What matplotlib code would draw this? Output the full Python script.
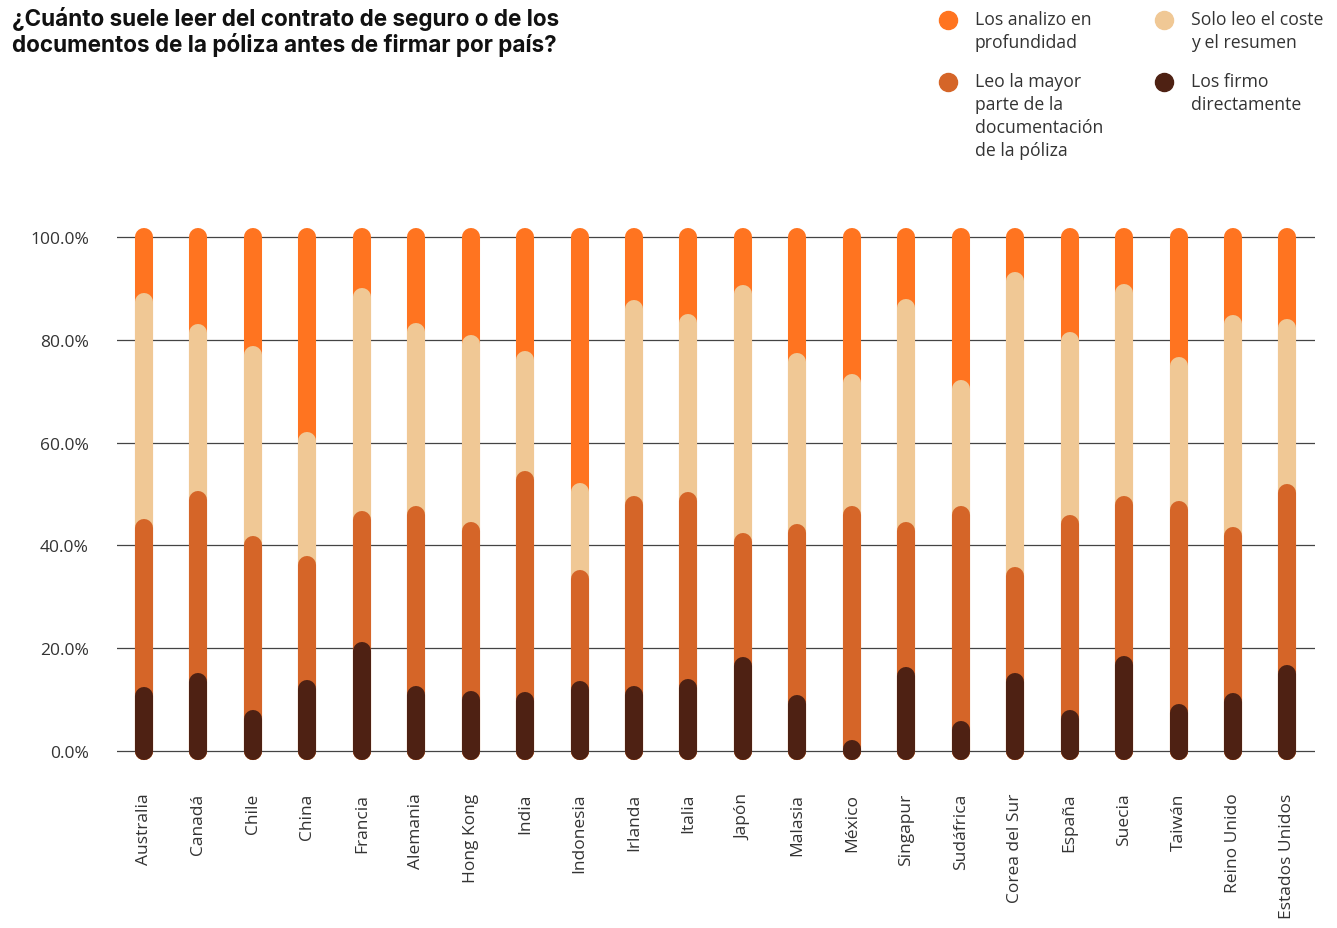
import matplotlib.pyplot as plt
from matplotlib.lines import Line2D
import numpy as np

paises = ["Australia", "Canadá", "Chile", "China", "Francia", "Alemania",
          "Hong Kong", "India", "Indonesia", "Irlanda", "Italia", "Japón",
          "Malasia", "México", "Singapur", "Sudáfrica", "Corea del Sur",
          "España", "Suecia", "Taiwán", "Reino Unido", "Estados Unidos"]

# porcentaje de encuestados por respuesta
firmo = [10.6, 13.4, 6.2, 12.0, 19.4, 10.9, 10.0, 9.8, 11.8, 10.9, 12.3,
         16.6, 9.1, 0.4, 14.6, 4.0, 13.4, 6.2, 16.7, 7.4, 9.5, 15.0]
mayor_parte = [32.7, 35.5, 33.9, 24.2, 25.5, 35.0, 32.8, 42.9, 21.6, 36.9, 36.3,
               24.1, 33.3, 45.5, 28.2, 41.9, 20.7, 38.0, 31.2, 39.5, 32.3, 35.1]
solo_coste = [44.1, 32.5, 36.9, 24.0, 43.5, 35.6, 36.4, 23.4, 16.9, 38.1, 34.7,
              48.2, 33.3, 25.6, 43.4, 24.6, 57.3, 35.5, 41.2, 27.9, 41.2, 32.1]
analizo = [12.6, 18.6, 23.0, 39.8, 11.6, 18.5, 20.8, 23.9, 49.7, 14.1, 16.7,
           11.1, 24.3, 28.5, 13.8, 29.5, 8.6, 20.3, 10.9, 25.2, 17.0, 17.8]

series = ["Los analizo en\nprofundidad",
          "Leo la mayor\nparte de la\ndocumentación\nde la póliza",
          "Solo leo el coste\ny el resumen",
          "Los firmo\ndirectamente"]
colores = ["#FF7420", "#D56528", "#F0C895", "#4E2113"]

fuente = "Open Sans"
gris = "#333333"

fig = plt.figure(figsize=(13.37, 9.29), dpi=100)
ax = fig.add_axes([0.0873, 0.174, 0.896, 0.5865])

x = np.arange(len(paises))
c1 = np.array(firmo)
c2 = c1 + np.array(mayor_parte)
c3 = c2 + np.array(solo_coste)
c4 = c3 + np.array(analizo)

# barras redondeadas: se pinta de la más alta a la más baja
for tope, col in [(c4, colores[0]), (c3, colores[2]), (c2, colores[1]), (c1, colores[3])]:
    ax.vlines(x, 0, tope, colors=col, linewidth=13, capstyle="round", zorder=3)

ax.set_xlim(-0.5, len(paises) - 0.5)
ax.set_ylim(-3, 103)
ax.set_yticks([0, 20, 40, 60, 80, 100])
ax.set_yticklabels([f"{v:.1f}%" for v in [0, 20, 40, 60, 80, 100]],
                   fontsize=12.5, color=gris, family=fuente)
ax.set_xticks(x)
ax.set_xticklabels(paises, rotation=90, fontsize=12.5, color=gris, family=fuente,
                   va="top", ha="center")
ax.tick_params(axis="y", length=0, pad=20)
ax.tick_params(axis="x", length=0, pad=19)
ax.grid(axis="y", color="#444444", linewidth=0.9, zorder=0)
for s in ax.spines.values():
    s.set_visible(False)

fig.text(0.009, 1 - 7 / 929,
         "¿Cuánto suele leer del contrato de seguro o de los\n"
         "documentos de la póliza antes de firmar por país?",
         fontsize=16.2, fontweight="bold", family="Inter", va="top", ha="left",
         linespacing=1.1, color="#111111")

# leyenda manual en dos columnas
W, H = 1337, 929
pos = [(948, 21), (948, 83), (1164, 21), (1164, 83)]
for (px, py), nombre, col in zip(pos, series, colores):
    fig.add_artist(Line2D([px / W], [1 - py / H], marker="o", markersize=13,
                          color=col, linestyle="none", transform=fig.transFigure))
    fig.text((px + 27) / W, 1 - (py - 10) / H, nombre, fontsize=12.7,
             family=fuente, color=gris, va="top", ha="left", linespacing=1.36)

fig.savefig("out.png", dpi=100)
